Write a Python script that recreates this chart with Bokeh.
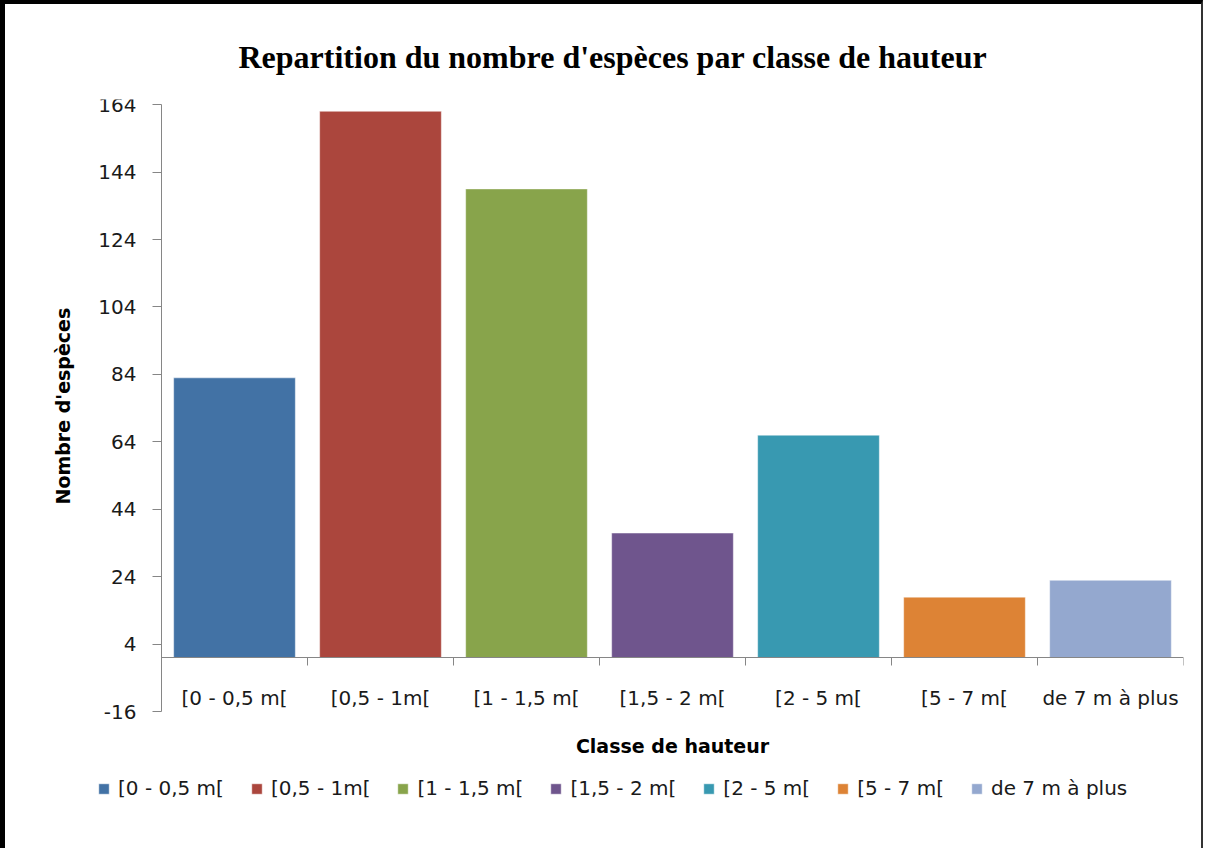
from bokeh.plotting import figure
from bokeh.models import (ColumnDataSource, Range1d, LinearAxis, FixedTicker, Title, Label)
from bokeh.embed import file_html
from bokeh.resources import INLINE

# ---- data ----
categories = ["[0 - 0,5 m[", "[0,5 - 1m[", "[1 - 1,5 m[", "[1,5 - 2 m[", "[2 - 5 m[", "[5 - 7 m[", "de 7 m à plus"]
counts = [83, 162, 139, 37, 66, 18, 23]
colors = ["#4272A5", "#AB463D", "#88A44B", "#6F558D", "#3899B1", "#DD8335", "#94A8CF"]
y_ticks = [-16, 4, 24, 44, 64, 84, 104, 124, 144, 164]
title_text = "Repartition du nombre d'espèces par classe de hauteur"
x_title = "Classe de hauteur"
y_title = "Nombre d'espèces"

FONT = "DejaVu Sans"
AXIS_GRAY = "#868686"

n = len(categories)
centers = [i + 0.5 for i in range(n)]
src = ColumnDataSource(dict(x=centers, cat=categories, val=counts, color=colors))

# view extents (layout only): frame extends left of the y axis and below -16
X_START = -71 / 146
Y_LOW = 164 - 716 / 3.398

p = figure(width=1203, height=848, output_backend="svg", toolbar_location=None,
           x_range=Range1d(X_START, n), y_range=Range1d(Y_LOW, y_ticks[-1] + 1.5),
           x_axis_location=None, y_axis_location=None,
           min_border_left=85, min_border_right=25, min_border_top=95, min_border_bottom=37)
p.styles = {"border-top": "4px solid #000", "border-left": "5px solid #000",
            "border-right": "2px solid #333"}
p.outline_line_color = None
p.xgrid.visible = False
p.ygrid.visible = False
p.background_fill_color = "white"
p.border_fill_color = "white"

p.title = Title(text=title_text, align="left", text_font="Liberation Serif",
                text_font_style="bold", text_font_size="32px", text_color="#000000",
                offset=148, standoff=50)

p.vbar(x="x", top="val", bottom=0, width=1/1.2, source=src, fill_color="color",
       line_color="#FFFFFF", line_alpha=0.45, line_width=1, legend_field="cat")

# y axis at x = 0, limited to the -16..164 span
yax = LinearAxis(ticker=FixedTicker(ticks=y_ticks, minor_ticks=[]), fixed_location=0,
                 bounds=(y_ticks[0], y_ticks[-1]),
                 major_label_overrides={t: str(t) for t in y_ticks})
yax.axis_line_color = AXIS_GRAY
yax.major_tick_line_color = AXIS_GRAY
yax.major_tick_out = 9
yax.major_tick_in = 0
yax.minor_tick_line_color = None
yax.major_label_standoff = 16
yax.major_label_text_font = FONT
yax.major_label_text_font_size = "20px"
yax.major_label_text_color = "#1a1a1a"
p.add_layout(yax, "left")

# y axis title
yt = Title(text=y_title, align="left", text_font=FONT, text_font_style="bold",
           text_font_size="19px", text_color="#000000", offset=311, standoff=33)
p.add_layout(yt, "left")

# boundary axis (line + tick marks between categories) at y = 0
bax = LinearAxis(ticker=FixedTicker(ticks=list(range(n + 1)), minor_ticks=[]), fixed_location=0,
                 bounds=(0, n))
bax.axis_line_color = AXIS_GRAY
bax.major_tick_line_color = AXIS_GRAY
bax.major_tick_out = 8
bax.major_tick_in = 0
bax.minor_tick_line_color = None
bax.major_label_text_font_size = "0px"
bax.major_label_text_alpha = 0
p.add_layout(bax, "below")

# category label axis at y = 0
cax = LinearAxis(ticker=FixedTicker(ticks=centers, minor_ticks=[]), fixed_location=0,
                 major_label_overrides={c: lab for c, lab in zip(centers, categories)})
cax.axis_line_color = None
cax.major_tick_line_color = None
cax.minor_tick_line_color = None
cax.major_tick_out = 0
cax.major_tick_in = 0
cax.major_label_standoff = 28
cax.major_label_text_font = FONT
cax.major_label_text_font_size = "20px"
cax.major_label_text_color = "#1a1a1a"
p.add_layout(cax, "below")

# x axis title
p.add_layout(Label(x=n / 2, y=-26, text=x_title, text_align="center", text_baseline="middle",
                   text_font=FONT, text_font_style="bold", text_font_size="19px",
                   text_color="#000000"))

# legend (inside the frame area, below the axis)
leg = p.legend[0]
leg.orientation = "horizontal"
leg.location = (7, 15)
leg.border_line_color = None
leg.background_fill_alpha = 0
leg.padding = 0
leg.margin = 0
leg.spacing = 26
leg.glyph_width = 13
leg.glyph_height = 13
leg.label_standoff = 8
leg.label_text_font = FONT
leg.label_text_font_size = "20px"
leg.label_text_color = "#1a1a1a"

open("out.html", "w").write(file_html(p, INLINE))
